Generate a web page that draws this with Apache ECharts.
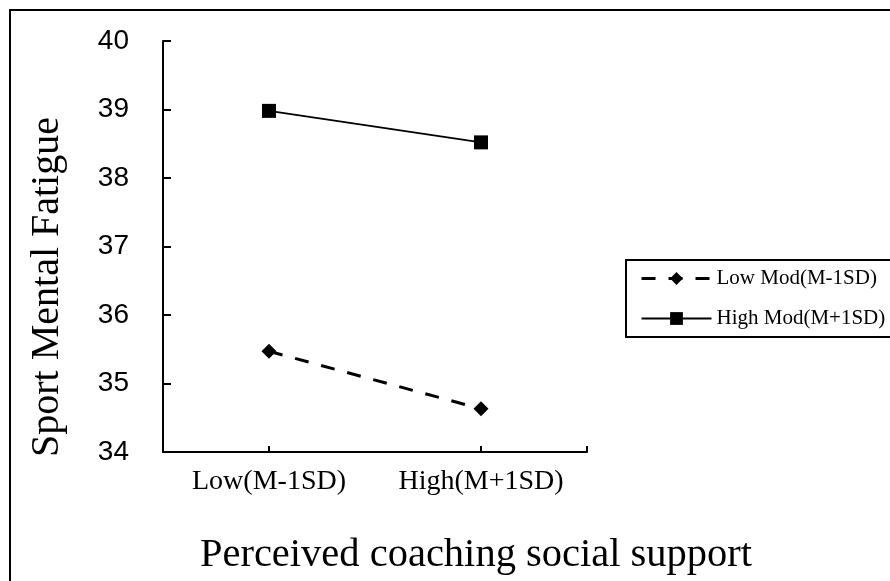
<!DOCTYPE html>
<html>
<head>
<meta charset="utf-8">
<script src="https://cdn.jsdelivr.net/npm/echarts@6/dist/echarts.min.js"></script>
<style>
  html, body { margin: 0; padding: 0; background: #fff; }
  #chart { width: 890px; height: 581px; }
</style>
</head>
<body>
<div id="chart"></div>
<script>
const categories = ['Low(M-1SD)', 'High(M+1SD)'];
const lowModValues = [35.47, 34.63];
const highModValues = [38.98, 38.52];
const seriesNames = ['Low Mod(M-1SD)', 'High Mod(M+1SD)'];
const yTicks = { min: 34, max: 40, interval: 1 };
const xName = 'Perceived coaching social support';
const yName = 'Sport Mental Fatigue';

const serif = '"Liberation Serif", "Times New Roman", serif';
const sans = '"Liberation Sans", Arial, sans-serif';

const grid = { left: 163, right: 303, top: 41, bottom: 129 };
const chartEl = document.getElementById('chart');
const chart = echarts.init(chartEl);
const W = 890;
const H = 581;
const axisEndX = W - grid.right;
const axisY = H - grid.bottom;

const lowLine = { color: '#000', width: 3, type: [14, 13] };
const highLine = { color: '#000', width: 2 };

chart.setOption({
  animation: false,
  backgroundColor: '#fff',
  grid: grid,
  legend: {
    left: 626,
    top: 260,
    orient: 'vertical',
    borderColor: '#000',
    borderWidth: 2,
    padding: [8, 30, 8, 14],
    itemGap: 19,
    itemWidth: 70,
    itemHeight: 16,
    selectedMode: false,
    textStyle: { fontFamily: serif, fontSize: 21, color: '#000' },
    data: [
      { name: seriesNames[0], lineStyle: lowLine },
      { name: seriesNames[1], lineStyle: highLine }
    ]
  },
  xAxis: {
    type: 'category',
    data: categories,
    boundaryGap: true,
    axisLine: { lineStyle: { color: '#000', width: 2 } },
    axisTick: { show: true, inside: true, alignWithLabel: true, interval: 0, length: 6, lineStyle: { color: '#000', width: 2 } },
    axisLabel: { interval: 0, fontFamily: serif, fontSize: 28, color: '#000', margin: 16 },
    splitLine: { show: false }
  },
  yAxis: {
    type: 'value',
    min: yTicks.min,
    max: yTicks.max,
    interval: yTicks.interval,
    axisLine: { show: true, lineStyle: { color: '#000', width: 2 } },
    axisTick: { show: true, inside: true, length: 8, lineStyle: { color: '#000', width: 2 } },
    axisLabel: { fontFamily: sans, fontSize: 28, color: '#000', margin: 34 },
    splitLine: { show: false }
  },
  series: [
    {
      name: seriesNames[0],
      type: 'line',
      data: lowModValues,
      symbol: 'diamond',
      symbolSize: 15,
      itemStyle: { color: '#000' },
      lineStyle: lowLine
    },
    {
      name: seriesNames[1],
      type: 'line',
      data: highModValues,
      symbol: 'rect',
      symbolSize: 14,
      itemStyle: { color: '#000' },
      lineStyle: highLine
    }
  ],
  graphic: [
    {
      type: 'rect',
      shape: { x: 10, y: 10, width: 1000, height: 1000 },
      style: { fill: null, stroke: '#000', lineWidth: 2 },
      silent: true
    },
    {
      // closing tick at the right end of the x axis
      type: 'line',
      shape: { x1: axisEndX, y1: axisY - 6, x2: axisEndX, y2: axisY },
      style: { stroke: '#000', lineWidth: 2 },
      silent: true
    },
    {
      type: 'text',
      x: 47,
      y: 287,
      rotation: Math.PI / 2,
      style: {
        text: yName,
        font: '40px ' + serif,
        fill: '#000',
        align: 'center',
        verticalAlign: 'middle'
      }
    },
    {
      type: 'text',
      x: 476,
      y: 555,
      style: {
        text: xName,
        font: '40.5px ' + serif,
        fill: '#000',
        align: 'center',
        verticalAlign: 'middle'
      }
    }
  ]
});
</script>
</body>
</html>
